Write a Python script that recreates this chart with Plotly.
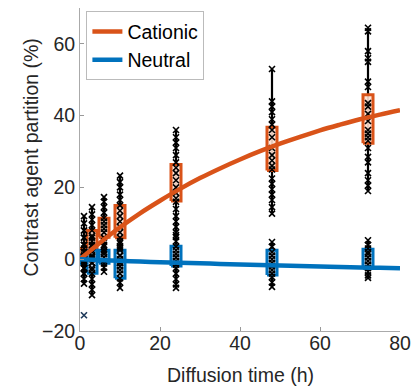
import plotly.graph_objects as go

# ---------------- data ----------------
times = [1, 3, 6, 10, 24, 48, 72]

# Cationic: box (q1, q3) and individual measurements
cat_q1 = [-1.0, 1.6, 6.1, 6.0, 16.2, 24.7, 32.3]
cat_q3 = [3.0, 8.0, 11.4, 15.0, 26.4, 36.8, 45.8]
cat_points = [
    [12, 10, 8, 6, 4, 3, 2, 1, 0, -1, -2.5, -4],
    [14.5, 12.5, 11, 9.5, 8, 6.5, 5, 3.5, 2, 0.5, -1, -3],
    [17.3, 16, 14.5, 13, 11.5, 10.5, 9.5, 8.5, 7.5, 6, 5, 3.5, 2],
    [23.3, 21.5, 20, 18, 16.5, 15, 13.5, 12, 10.5, 9, 7.5, 6, 4.5, 3, 1, -1],
    [36, 34, 32.5, 31, 29, 27, 25.5, 24, 22, 20, 18.5, 17, 16, 14, 12, 10.5, 9, 7.5, 6.2],
    [53, 44, 42.5, 41, 39, 37.5, 36, 34, 31, 29, 27.5, 26, 25, 22.5, 21, 19.5, 18, 16.5, 14.5, 12.7],
    [64.5, 63.5, 58, 56, 55, 49.5, 48, 43.5, 42.5, 40.5, 38.5, 36, 35, 34, 33, 31, 28.5, 27, 24, 22, 20.5, 19],
]

# Neutral
neu_q1 = [-1.2, -3.9, -1.1, -5.3, -1.9, -4.4, -2.5]
neu_q3 = [1.0, 2.5, 2.5, 2.5, 3.6, 2.5, 2.8]
neu_points = [
    [8, 6, 4, 2, 1, 0, -0.5, -1.2, -2.5, -4, -5.5, -6.8],
    [6, 4, 2.5, 1, 0, -1, -2.5, -4, -5.5, -7, -8.5, -10],
    [4, 2.5, 1.5, 0.5, -0.5, -1.2, -2.3, -3.5],
    [5, 3.5, 2.5, 1, 0, -1, -2, -3, -4, -5.3, -6.5, -8],
    [6.7, 5, 3.5, 2.5, 1.5, 0.5, -0.5, -1.5, -2.5, -4, -5.5, -7, -8],
    [4.8, 3.5, 2, 1, 0, -1, -2, -3, -4, -5, -6.5, -7.7],
    [5.3, 4, 3, 2, 1.5, 0.5, -0.5, -1.5, -2.5, -3.5, -4.5, -5.2],
]
neu_outlier_t = [1]
neu_outlier_v = [-15.6]

# fitted curves
fit_t = [0, 5, 10, 15, 20, 25, 30, 35, 40, 45, 50, 55, 60, 65, 70, 75, 80]
cat_fit = [0, 4.6, 8.9, 12.8, 16.3, 19.6, 22.6, 25.3, 27.8, 30.1, 32.2, 34.1, 35.9, 37.5, 39.0, 40.3, 41.5]
neu_fit = [0, -0.25, -0.45, -0.65, -0.85, -1.0, -1.15, -1.3, -1.45, -1.6, -1.75, -1.9, -2.0, -2.15, -2.3, -2.4, -2.5]

x_ticks = [0, 20, 40, 60, 80]
y_ticks = [-20, 0, 20, 40, 60]
x_title = "Diffusion time (h)"
y_title = "Contrast agent partition (%)"

ORANGE = "#D95319"
BLUE = "#0072BD"
BOX_HALF = 1.25

fig = go.Figure()


def add_group(points, q1s, q3s, color, fill):
    # whiskers
    wx, wy = [], []
    for t, pts in zip(times, points):
        wx += [t, t, None]
        wy += [min(pts), max(pts), None]
    fig.add_trace(go.Scatter(x=wx, y=wy, mode="lines",
                             line=dict(color="black", width=2.2),
                             showlegend=False, hoverinfo="skip"))
    # boxes
    for t, a, b in zip(times, q1s, q3s):
        fig.add_trace(go.Scatter(
            x=[t - BOX_HALF, t + BOX_HALF, t + BOX_HALF, t - BOX_HALF, t - BOX_HALF],
            y=[a, a, b, b, a], mode="lines", fill="toself", fillcolor=fill,
            line=dict(color=color, width=3), showlegend=False, hoverinfo="skip"))


def add_markers(points):
    mx, my = [], []
    for t, pts in zip(times, points):
        mx += [t] * len(pts)
        my += pts
    fig.add_trace(go.Scatter(x=mx, y=my, mode="markers",
                             marker=dict(symbol="x-thin", size=6, color="black",
                                         line=dict(color="black", width=1.6)),
                             showlegend=False, hoverinfo="skip"))


add_group(cat_points, cat_q1, cat_q3, ORANGE, "rgba(255,225,210,0.9)")
add_group(neu_points, neu_q1, neu_q3, BLUE, "rgba(210,228,245,0.9)")
add_markers(cat_points)
add_markers(neu_points)
fig.add_trace(go.Scatter(x=neu_outlier_t, y=neu_outlier_v, mode="markers",
                         marker=dict(symbol="x-thin", size=6, color="#1f3a5a",
                                     line=dict(color="#1f3a5a", width=1.6)),
                         showlegend=False, hoverinfo="skip"))

fig.add_trace(go.Scatter(x=fit_t, y=cat_fit, mode="lines", name="Cationic",
                         line=dict(color=ORANGE, width=4.5, shape="spline")))
fig.add_trace(go.Scatter(x=fit_t, y=neu_fit, mode="lines", name="Neutral",
                         line=dict(color=BLUE, width=4.5, shape="spline")))

FONT = "Liberation Sans, Arial, Helvetica, sans-serif"
TXT = "#262626"
# page body has an 8px margin: figure is 411x378 placed at (8, 8)
fig.update_layout(
    width=411, height=378,
    margin=dict(l=72, r=19, t=0, b=55),
    plot_bgcolor="white", paper_bgcolor="white",
    font=dict(family=FONT, size=19.5, color=TXT),
    legend=dict(x=0.02, y=0.99, xanchor="left", yanchor="top",
                bgcolor="white", bordercolor="#BBBBBB", borderwidth=1,
                font=dict(size=19.5, color="#000000"), itemwidth=30,
                tracegroupgap=0),
    xaxis=dict(range=[0, 80], tickvals=x_ticks, ticks="inside", ticklen=4,
               tickcolor="#999999", showline=True, linecolor="#AAAAAA",
               linewidth=1, showgrid=False, zeroline=False, automargin=False,
               ticklabelstandoff=-5,
               tickfont=dict(size=19.5, color=TXT)),
    yaxis=dict(range=[-20, 70], tickvals=y_ticks, ticks="inside", ticklen=4,
               tickcolor="#999999", showline=True, linecolor="#AAAAAA",
               linewidth=1, showgrid=False, zeroline=False, automargin=False,
               tickfont=dict(size=19.5, color=TXT)),
    annotations=[
        dict(text=x_title, xref="paper", yref="paper", x=0.5, y=-0.136,
             xanchor="center", yanchor="middle", showarrow=False,
             font=dict(size=19.5, color=TXT)),
        dict(text=y_title, xref="paper", yref="paper", x=-0.153, y=0.537,
             xanchor="center", yanchor="middle", showarrow=False, textangle=-90,
             font=dict(size=19.5, color=TXT)),
    ],
)

fig.write_html("out.html")
